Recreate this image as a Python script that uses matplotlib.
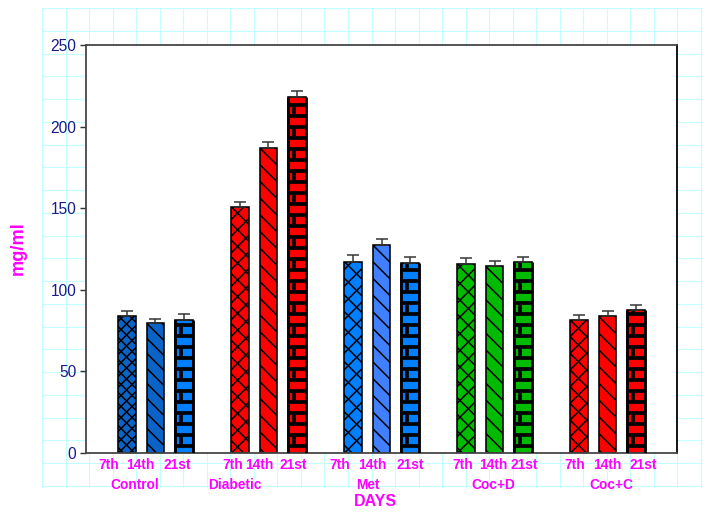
import numpy as np
import matplotlib
matplotlib.use('Agg')
import matplotlib.pyplot as plt
from matplotlib.collections import LineCollection

plt.rcParams['font.family'] = ['Liberation Sans', 'DejaVu Sans']

# Data
groups = ['Control', 'Diabetic', 'Met', 'Coc+D', 'Coc+C']
days = ['7th', '14th', '21st']
means = [
    [84.0, 79.5, 81.7],
    [150.7, 187.0, 218.3],
    [117.2, 127.5, 116.6],
    [115.6, 114.4, 116.8],
    [81.3, 83.7, 87.4],
]
errs = [
    [3.3, 2.8, 3.3],
    [3.3, 3.8, 3.5],
    [3.9, 3.5, 3.7],
    [3.7, 3.4, 3.5],
    [3.5, 3.5, 3.3],
]
colors = [
    ['#0a64c8', '#0a64c8', '#0080ff'],
    ['#ff0000', '#ff0000', '#ff0000'],
    ['#0080ff', '#4080ff', '#0080ff'],
    ['#00bb00', '#00bb00', '#00bb00'],
    ['#ff0000', '#ff0000', '#ff0000'],
]
patterns = ['cross', 'diag', 'brick']
# hatch spacing in pixels (Control 7th is denser)
hatch_step = [[11.0, 15.0, 0], [16.7, 16.7, 0], [16.7, 16.7, 0],
              [16.7, 16.7, 0], [16.7, 16.7, 0]]

# label positions (layout)
day_label_x = [[-0.41, -0.13, 0.19], [0.68, 0.92, 1.22], [1.63, 1.92, 2.25],
               [2.72, 2.99, 3.26], [3.71, 4.00, 4.32]]
group_label_x = [-0.18, 0.70, 1.88, 2.99, 4.03]

DPI = 64
fig = plt.figure(figsize=(711 / DPI, 512 / DPI), dpi=DPI)

# light cyan background grid
bg = fig.add_axes([0, 0, 1, 1], zorder=0)
bg.set_xlim(0, 711)
bg.set_ylim(512, 0)
bg.axis('off')
gx = np.linspace(42, 701, 29)
gy = np.linspace(8, 486, 22)
bg.vlines(gx, 8, 488, color='#c4ffff', lw=1.2)
bg.hlines(gy, 42, 701, color='#c4ffff', lw=1.2)

ax = fig.add_axes([86 / 711, 59 / 512, 591 / 711, 408 / 512], zorder=1)
ax.set_facecolor('white')
ax.set_xlim(-0.615, 4.615)
ax.set_ylim(0, 250)

# pixel -> data scale factors
px_x = (4.615 + 0.615) / 591
px_y = 250 / 408

offsets = [-0.25, 0.0, 0.25]
width = 0.155


def diag_lines(x0, w, h, sign, spacing):
    # 45 degree lines in pixel space, converted to data units
    wp = w / px_x
    hp = h / px_y
    segs = []
    c = -hp + (hp % spacing)
    while c < wp + hp:
        if sign > 0:
            p0 = (c, 0)
            p1 = (c + hp, hp)
        else:
            p0 = (c, hp)
            p1 = (c + hp, 0)
        segs.append([(x0 + p0[0] * px_x, p0[1] * px_y),
                     (x0 + p1[0] * px_x, p1[1] * px_y)])
        c += spacing
    return segs


for g in range(len(groups)):
    for d in range(3):
        x = g + offsets[d]
        bar = ax.bar(x, means[g][d], width=width, color=colors[g][d],
                     edgecolor='black', linewidth=1.8, zorder=2)[0]
        ax.errorbar(x, means[g][d], yerr=[[0], [errs[g][d]]], fmt='none',
                    ecolor='#333333', elinewidth=1.7, capsize=6.5,
                    capthick=1.7, zorder=3)
        x0 = bar.get_x()
        w = bar.get_width()
        h = bar.get_height()
        sp = hatch_step[g][d]
        if patterns[d] == 'cross':
            segs = diag_lines(x0, w, h, 1, sp) + diag_lines(x0, w, h, -1, sp)
            lc = LineCollection(segs, colors='black', linewidths=1.7, zorder=2.5)
            ax.add_collection(lc)
            lc.set_clip_path(bar)
        elif patterns[d] == 'diag':
            segs = diag_lines(x0, w, h, -1, sp)
            lc = LineCollection(segs, colors='black', linewidths=1.7, zorder=2.5)
            ax.add_collection(lc)
            lc.set_clip_path(bar)
        else:
            brick_h = 11 * px_y
            ys = np.arange(brick_h * 0.6, h, brick_h)
            hl = ax.hlines(ys, x0, x0 + w, color='black', lw=4.2, zorder=2.5)
            hl.set_clip_path(bar)
            segs_x, segs_y0, segs_y1 = [], [], []
            for k, yy in enumerate(ys):
                if k % 2 == 0:
                    segs_x.append(x0 + 0.35 * w)
                    segs_y0.append(yy)
                    segs_y1.append(min(yy + brick_h, h))
            vl = ax.vlines(segs_x, segs_y0, segs_y1, color='black', lw=4.2,
                           zorder=2.5)
            vl.set_clip_path(bar)
            ax.vlines([x0, x0 + w], 0, h, color='black', lw=3.2, zorder=2.6)

ax.set_yticks([0, 50, 100, 150, 200, 250])
ax.set_xticks([])
ax.tick_params(axis='y', direction='out', length=7, width=1.6,
               color='#333333', labelcolor='#1a1a8a', labelsize=17.5, pad=4)
for s in ax.spines.values():
    s.set_linewidth(2.0)
    s.set_color('#444444')
ax.spines['right'].set_color('black')

tr = ax.get_xaxis_transform()
for g in range(len(groups)):
    for d in range(3):
        ax.text(day_label_x[g][d], -0.029, days[d], transform=tr,
                ha='center', va='center', color='#ff00ff',
                fontsize=15.5, fontweight='bold')
    ax.text(group_label_x[g], -0.078, groups[g], transform=tr,
            ha='center', va='center', color='#ff00ff',
            fontsize=15.5, fontweight='bold')

fig.text(375 / 711, 1 - 502 / 512, 'DAYS', ha='center', va='center',
         color='#ff00ff', fontsize=18, fontweight='bold')
fig.text(18 / 711, 1 - 248 / 512, 'mg/ml', ha='center', va='center',
         rotation=90, color='#ff00ff', fontsize=20.5, fontweight='bold')

fig.savefig('out.png', dpi=DPI)
